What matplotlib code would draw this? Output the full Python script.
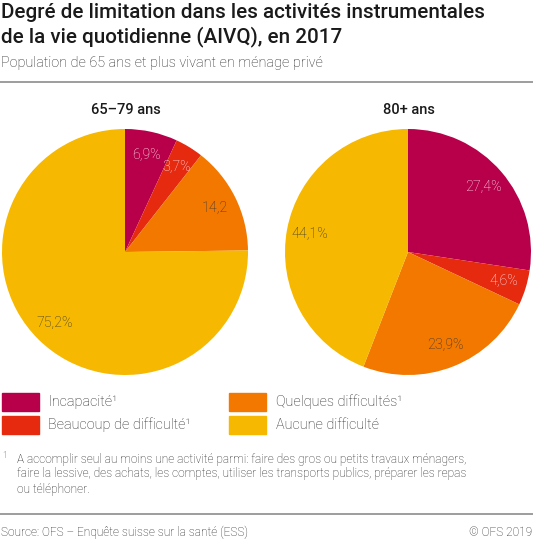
import numpy as np
import matplotlib
matplotlib.use("Agg")
import matplotlib.pyplot as plt
from matplotlib.patches import Rectangle
from matplotlib.lines import Line2D

plt.rcParams['font.family'] = ['Roboto', 'DejaVu Sans']

# data
categories = ["Incapacité¹", "Beaucoup de difficulté¹", "Quelques difficultés¹", "Aucune difficulté"]
colors = ["#b8004a", "#e52a10", "#f27800", "#f6b800"]
label_colors = ["#ffe6ee", "#ffe6ee", "#333333", "#333333"]
groups = ["65–79 ans", "80+ ans"]
values_6579 = [6.9, 3.7, 14.2, 75.2]
values_80 = [27.4, 4.6, 23.9, 44.1]
labels_6579 = ["6,9%", "3,7%", "14,2", "75,2%"]
labels_80 = ["27,4%", "4,6%", "23,9%", "44,1%"]

W, H = 533, 539
fig = plt.figure(figsize=(W / 100, H / 100), dpi=100)


def fx(x):
    return x / W


def fy(y):
    return 1 - y / H


def txt(x, y, s, **kw):
    kw.setdefault('color', '#222222')
    kw.setdefault('va', 'center')
    fig.text(fx(x), fy(y), s, **kw)


# header
txt(1, 13, "Degré de limitation dans les activités instrumentales", fontsize=14.9,
    fontweight='medium', color='#1a1a1a')
txt(1, 37, "de la vie quotidienne (AIVQ), en 2017", fontsize=14.9,
    fontweight='medium', color='#1a1a1a')
txt(1, 63, "Population de 65 ans et plus vivant en ménage privé", fontsize=10.4,
    fontweight='light')
fig.add_artist(Line2D([0, 1], [fy(82), fy(82)], color='#8c8c8c', lw=1.2))

# pies
centers = [(125, 252), (408, 252)]
r = 123
for (cx, cy), title, vals, labs in zip(centers, groups, [values_6579, values_80],
                                       [labels_6579, labels_80]):
    ax = fig.add_axes([fx(cx - r), fy(cy + r), 2 * r / W, 2 * r / H])
    wedges, _ = ax.pie(vals, colors=colors, startangle=90, counterclock=False,
                       radius=1, wedgeprops=dict(linewidth=0))
    for w, lab, lc in zip(wedges, labs, label_colors):
        ang = np.deg2rad((w.theta1 + w.theta2) / 2)
        ax.text(0.81 * np.cos(ang), 0.81 * np.sin(ang), lab, ha='center', va='center',
                fontsize=10.3, fontweight='light', color=lc)
    ax.set_xlim(-1, 1)
    ax.set_ylim(-1, 1)
    ax.set_aspect('equal')
    ax.axis('off')
    txt(cx + 1, 110, title, ha='center', fontsize=10.5, fontweight='medium',
        color='#1a1a1a')

# legend
leg_x = [(2, 48), (229, 276)]
leg_y = [402, 425]
for i, (cat, col) in enumerate(zip(categories, colors)):
    col_i, row_i = divmod(i, 2)
    rx, tx = leg_x[col_i]
    yy = leg_y[row_i]
    fig.add_artist(Rectangle((fx(rx), fy(yy + 9)), 37 / W, 18 / H, color=col,
                             transform=fig.transFigure))
    txt(tx, yy, cat, fontsize=10.4, fontweight='light')

# footnote
txt(2, 455, "1", fontsize=6.5, fontweight='light')
foot = ["A accomplir seul au moins une activité parmi: faire des gros ou petits travaux ménagers,",
        "faire la lessive, des achats, les comptes, utiliser les transports publics, préparer les repas",
        "ou téléphoner."]
for k, line in enumerate(foot):
    txt(17, 459 + k * 15, line, fontsize=8.6, fontweight='light')

fig.add_artist(Line2D([0, 1], [fy(514), fy(514)], color='#8c8c8c', lw=1.2))
txt(1, 532, "Source: OFS – Enquête suisse sur la santé (ESS)", fontsize=8.6,
    fontweight='light')
txt(532, 532, "© OFS 2019", ha='right', fontsize=8.6, fontweight='light')

fig.savefig("out.png", dpi=100)
